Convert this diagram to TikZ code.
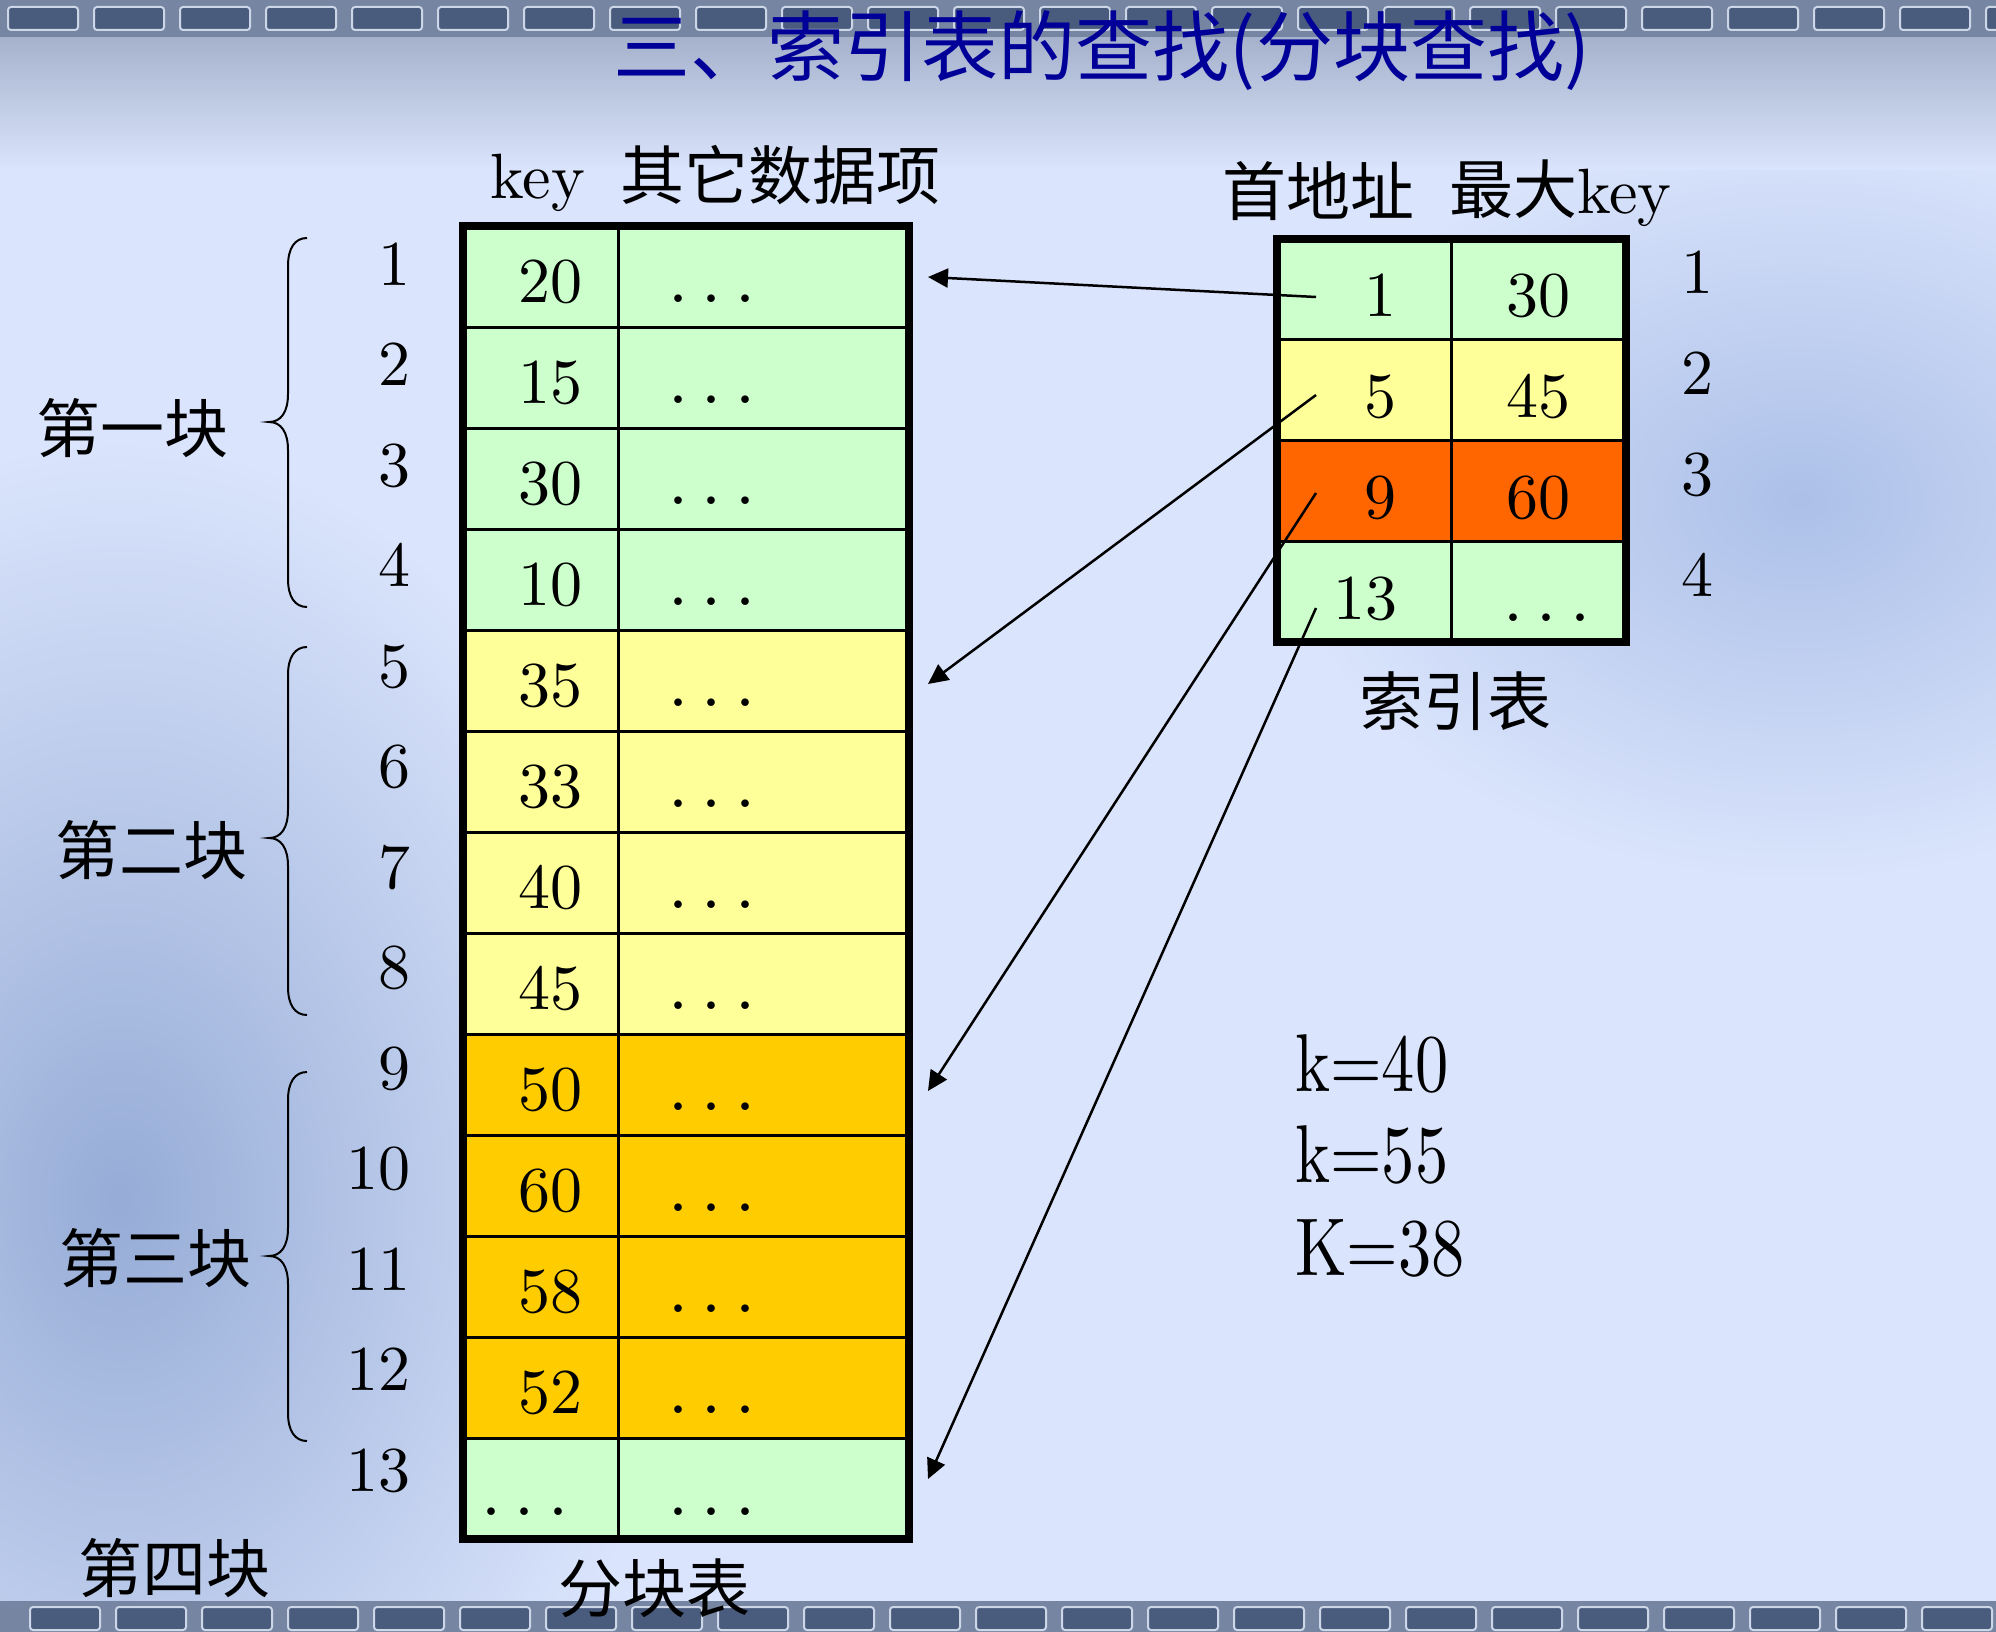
\documentclass[tikz,border=0pt]{standalone}
\usepackage{fontspec}
\setmainfont{lmroman10-regular.otf}
\newfontfamily\cjk{Noto Sans CJK SC}
\usetikzlibrary{arrows.meta}
\definecolor{bgblue}{RGB}{218,228,252}
\definecolor{cellgreen}{HTML}{CCFFCC}
\definecolor{cellyellow}{HTML}{FFFF99}
\definecolor{cellgold}{HTML}{FFCC00}
\definecolor{cellorange}{HTML}{FF6600}
\definecolor{titleblue}{HTML}{000099}
\definecolor{stripbase}{RGB}{118,134,162}
\definecolor{stripdark}{RGB}{74,92,126}
\definecolor{stripline}{RGB}{205,214,230}
\definecolor{topshade}{RGB}{166,178,204}
\definecolor{deco}{RGB}{150,172,214}
\definecolor{decor}{RGB}{172,192,232}
\newcommand{\numfont}{\fontsize{64pt}{70pt}\selectfont}
\newcommand{\zhfont}{\cjk\fontsize{64pt}{70pt}\selectfont}
\newcommand{\kfont}{\fontsize{82pt}{90pt}\selectfont}
\newcommand{\tdots}{{\fontsize{72pt}{72pt}\selectfont .\kern13pt.\kern13pt.}}
\newcommand{\myBrace}[3]{%
  \draw[bracestyle] (307,#1) .. controls (295,#1) and (288,#1+10) .. (288,#1+28)
    -- (288,#3-28) .. controls (288,#3-10) and (281,#3) .. (269,#3)
    .. controls (281,#3) and (288,#3+10) .. (288,#3+28)
    -- (288,#2-28) .. controls (288,#2-10) and (295,#2) .. (307,#2);}
\begin{document}
\begin{tikzpicture}[x=1pt,y=-1pt,
  cell/.style={draw=black,line width=3pt,inner sep=0pt,outer sep=0pt,minimum height=101pt},
  kcell/.style={cell,minimum width=155pt},
  dcell/.style={cell,minimum width=290.5pt},
  icell/.style={cell,minimum width=174.5pt,minimum height=100.75pt},
  num/.style={font=\numfont,inner sep=0pt,anchor=base},
  zh/.style={font=\zhfont,inner sep=0pt,anchor=base},
  kline/.style={font=\kfont,inner sep=0pt,anchor=base west},
  frame/.style={line width=8pt},
  link/.style={line width=2.5pt,-{Triangle[length=20pt,width=19pt]}},
  bracestyle/.style={line width=2pt}]
\useasboundingbox (0,0) rectangle (1996,1632);
% background
\begin{scope}
\clip (0,0) rectangle (1996,1632);
\fill[bgblue] (0,0) rectangle (1996,1632);
\shade[inner color=deco, outer color=bgblue] (120,1200) ellipse [x radius=560pt, y radius=760pt];
\shade[inner color=decor, outer color=bgblue] (1800,500) ellipse [x radius=520pt, y radius=380pt];
\shade[top color=topshade, bottom color=bgblue] (0,37) rectangle (1996,170);
\fill[stripbase] (0,0) rectangle (1996,37);
\foreach \i in {0,...,23} {\draw[stripline,fill=stripdark,line width=2pt,rounded corners=3pt] ({\i*86+8},7) rectangle ++(70,23);}
\fill[stripbase] (0,1601) rectangle (1996,1632);
\foreach \i in {0,...,23} {\draw[stripline,fill=stripdark,line width=2pt,rounded corners=3pt] ({\i*86+30},1607) rectangle ++(70,23);}
\end{scope}
% title
\node[font=\cjk\fontsize{77pt}{80pt}\selectfont,text=titleblue,inner sep=0pt,anchor=base] (title) at (1102,76) {三、索引表的查找(分块查找)};
% headers
\node[num] (hkey) at (538,198) {key};
\node[zh] (hother) at (780,200) {其它数据项};
\node[zh] (haddr) at (1318,215) {首地址};
\node[num,anchor=base west] (hmax) at (1449,213) {{\cjk 最大}key};
% main table
\foreach \i/\k/\c in {1/20/cellgreen,2/15/cellgreen,3/30/cellgreen,4/10/cellgreen,5/35/cellyellow,6/33/cellyellow,7/40/cellyellow,8/45/cellyellow,9/50/cellgold,10/60/cellgold,11/58/cellgold,12/52/cellgold}{
  \node[kcell,fill=\c] (k\i) at (540.5,{226+101*(\i-0.5)}) {};
  \node[dcell,fill=\c] (d\i) at (763.25,{226+101*(\i-0.5)}) {};
  \node[num] (kt\i) at (550,{226+101*\i-25}) {\k};
  \node[num] (dt\i) at (712,{226+101*\i-25}) {\tdots};
}
\node[kcell,fill=cellgreen] (k13) at (540.5,{226+101*12.5}) {};
\node[dcell,fill=cellgreen] (d13) at (763.25,{226+101*12.5}) {};
\node[num] (kt13) at (525,1515) {\tdots};
\node[num] (dt13) at (712,1515) {\tdots};
\draw[frame] (k1.north west) rectangle (d13.south east);
\foreach \i in {1,...,13}{
  \node[num,anchor=base east] (rn\i) at (411,{264+100.5*(\i-1)+21}) {\i};
}
\node[zh] (tblname) at (654,1612) {分块表};
% braces and block labels
\myBrace{238}{607}{422}
\myBrace{647}{1015}{838}
\myBrace{1072}{1441}{1256}
\node[zh] (b1) at (132,452) {第一块};
\node[zh] (b2) at (151,874) {第二块};
\node[zh] (b3) at (155,1282) {第三块};
\node[zh] (b4) at (174,1592) {第四块};
% index table
\foreach \j/\a/\b/\c in {1/1/30/cellgreen,2/5/45/cellyellow,3/9/60/cellorange}{
  \node[icell,fill=\c] (ia\j) at (1364,{239+100.75*(\j-0.5)}) {};
  \node[icell,fill=\c] (ib\j) at (1538.5,{239+100.75*(\j-0.5)}) {};
  \node[num] (iat\j) at (1380,{239+100.75*\j-23}) {\a};
  \node[num] (ibt\j) at (1538,{239+100.75*\j-23}) {\b};
}
\node[icell,fill=cellgreen] (ia4) at (1364,{239+100.75*3.5}) {};
\node[icell,fill=cellgreen] (ib4) at (1538.5,{239+100.75*3.5}) {};
\node[num] (iat4) at (1365,{239+100.75*4-23}) {13};
\node[num] (ibt4) at (1547,{239+100.75*4-21}) {\tdots};
\draw[frame] (ia1.north west) rectangle (ib4.south east);
\foreach \j in {1,...,4}{
  \node[num] (irn\j) at (1697,{239+100.75*\j-46}) {\j};
}
\node[zh] (iname) at (1455,725) {索引表};
% arrows
\coordinate (s1) at (1316,297);
\coordinate (s2) at (1316,395);
\coordinate (s3) at (1316,493);
\coordinate (s4) at (1316,608);
\coordinate (t1) at (928,277);
\coordinate (t2) at (928,684);
\coordinate (t3) at (928,1091);
\coordinate (t4) at (928,1479);
\draw[link] (s1) -- (t1);
\draw[link] (s2) -- (t2);
\draw[link] (s3) -- (t3);
\draw[link] (s4) -- (t4);
% search keys
\node[kline] (q1) at (1295,1091) {\scalebox{0.81}[1]{k=40}};
\node[kline] (q2) at (1295,1182) {\scalebox{0.81}[1]{k=55}};
\node[kline] (q3) at (1295,1275) {\scalebox{0.81}[1]{K=38}};
\end{tikzpicture}
\end{document}
